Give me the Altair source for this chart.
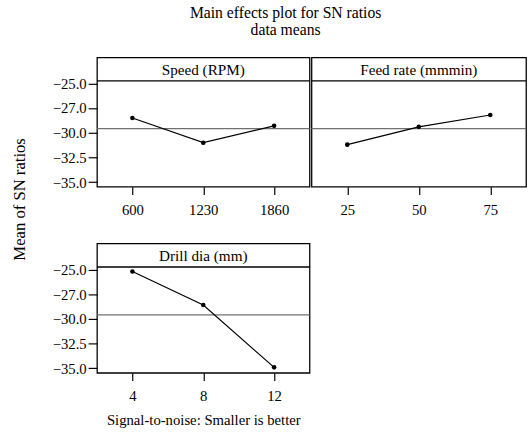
import altair as alt
import pandas as pd

# Mean S/N ratio at each level of the three factors
speed_levels = ["600", "1230", "1860"]
speed_sn = [-28.5, -31.0, -29.3]
feed_levels = ["25", "50", "75"]
feed_sn = [-31.2, -29.4, -28.2]
drill_levels = ["4", "8", "12"]
drill_sn = [-25.2, -28.6, -34.9]

# y-axis tick positions and their printed labels
y_ticks = [-25.0, -27.5, -30.0, -32.5, -35.0]
y_tick_labels = ["−25.0", "−27.0", "−30.0", "−32.5", "−35.0"]

all_sn = speed_sn + feed_sn + drill_sn
grand_mean = sum(all_sn) / len(all_sn)

FONT = "Liberation Serif"
PLOT_H = 108          # data area height
STRIP_H = 24          # header strip height
Y_DOMAIN = [-35.45, -24.75]

label_expr = " : ".join(
    f"datum.value == {v} ? '{t}'" for v, t in zip(y_ticks, y_tick_labels)
) + " : ''"


def panel(name, levels, values, width, show_y=False, x_title=""):
    df = pd.DataFrame({"level": levels, "sn": values})

    x = alt.X("level:N", sort=levels,
              scale=alt.Scale(type="point", padding=0.5),
              axis=alt.Axis(labelAngle=0, tickSize=8, labelPadding=8,
                            domain=False, grid=False, titlePadding=10,
                            title=x_title))

    # data area sits below the header strip
    y_scale = alt.Scale(domain=Y_DOMAIN, range=[STRIP_H + PLOT_H, STRIP_H],
                        nice=False, zero=False)
    if show_y:
        y_axis = alt.Axis(values=y_ticks, labelExpr=label_expr, tickSize=9,
                          labelPadding=2, domain=False, grid=False, title="")
        y = alt.Y("sn:Q", scale=y_scale, axis=y_axis)
    else:
        y = alt.Y("sn:Q", scale=y_scale, axis=None)

    base = alt.Chart(df).encode(x=x, y=y)
    # grand mean of all S/N ratios as a horizontal reference
    mean_rule = alt.Chart(pd.DataFrame({"sn": [grand_mean]})).mark_rule(
        color="#707070", strokeWidth=1.3
    ).encode(y=y)
    line = base.mark_line(color="black", strokeWidth=1.2)
    dots = base.mark_circle(color="black", size=22, opacity=1)

    # header strip: dividing line and factor name
    strip_line = alt.Chart(pd.DataFrame({"name": [name]})).mark_rule(
        color="black", strokeWidth=1.3
    ).encode(y=alt.value(STRIP_H))
    strip_text = alt.Chart(pd.DataFrame({"name": [name]})).mark_text(
        font=FONT, fontSize=15.5, color="black", baseline="middle"
    ).encode(text="name:N", y=alt.value(STRIP_H / 2 + 0.5))

    return alt.layer(mean_rule, line, dots, strip_line, strip_text).properties(
        width=width, height=STRIP_H + PLOT_H
    )


speed = panel("Speed (RPM)", speed_levels, speed_sn, 217, show_y=True)
feed = panel("Feed rate (mmmin)", feed_levels, feed_sn, 219)
drill = panel("Drill dia (mm)", drill_levels, drill_sn, 217, show_y=True,
              x_title="Signal-to-noise: Smaller is better")

# shared y-axis title for both rows
y_title = alt.Chart(pd.DataFrame({"t": ["Mean of SN ratios"]})).mark_text(
    font=FONT, fontSize=17, angle=270, color="black"
).encode(
    y=alt.Y("t:N", axis=None),
    text="t:N",
).properties(width=15, height=290,
             view=alt.ViewBackground(stroke="transparent"))

grid = alt.vconcat(alt.hconcat(speed, feed, spacing=-4), drill, spacing=25)

chart = alt.hconcat(y_title, grid, spacing=22).properties(
    title=alt.TitleParams(
        text=["Main effects plot for SN ratios", "data means"],
        font=FONT, fontSize=16, fontWeight="normal", anchor="middle",
        color="black", offset=19, lineHeight=18, dx=17,
    ),
    padding={"left": 10, "top": 0, "right": 0, "bottom": 5},
).configure_axis(
    labelFont=FONT, titleFont=FONT, labelFontSize=15, titleFontSize=15,
    titleFontWeight="normal", labelColor="black", titleColor="black",
    tickColor="black", tickWidth=1.2,
).configure_view(
    stroke="black", strokeWidth=1.3
)

chart.save("out.html", embed_options={"renderer": "svg", "actions": False})
